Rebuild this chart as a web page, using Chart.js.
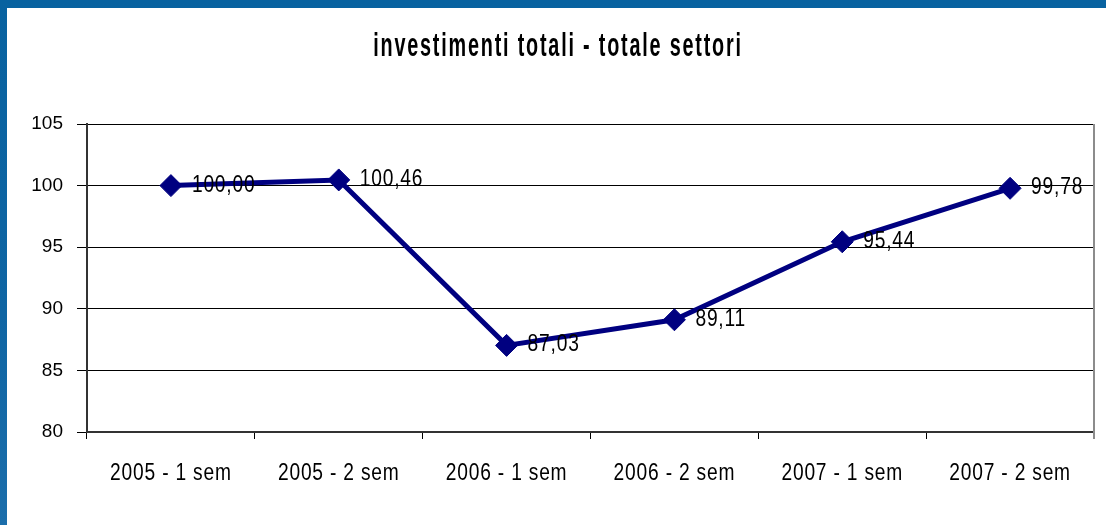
<!DOCTYPE html>
<html>
<head>
<meta charset="utf-8">
<script src="https://cdn.jsdelivr.net/npm/chart.js@4"></script>
<style>
  html, body { margin: 0; padding: 0; }
  body { width: 1106px; height: 525px; background: linear-gradient(180deg, #0862a0 0%, #0f65a3 60%, #1b6eab 100%); position: relative; overflow: hidden; }
  #wrap { position: absolute; left: 7px; top: 8px; width: 1099px; height: 517px; background: #ffffff; }
  canvas { display: block; }
</style>
</head>
<body>
<div id="wrap"><canvas id="c" width="1099" height="517"></canvas></div>
<script>
const titleText = "investimenti totali - totale settori";
const categories = ["2005 - 1 sem", "2005 - 2 sem", "2006 - 1 sem", "2006 - 2 sem", "2007 - 1 sem", "2007 - 2 sem"];
const values = [100.00, 100.46, 87.03, 89.11, 95.44, 99.78];
const valueLabels = ["100,00", "100,46", "87,03", "89,11", "95,44", "99,78"];
const yTicks = [80, 85, 90, 95, 100, 105];

const FONT = "'Liberation Sans', Arial, sans-serif";

// draw text horizontally condensed (narrow look of the original)
function narrowText(ctx, text, x, y, sx, align, spacing) {
  ctx.save();
  ctx.translate(x, y);
  ctx.scale(sx, 1);
  ctx.letterSpacing = spacing || '0px';
  ctx.textAlign = align;
  ctx.fillText(text, 0, 0);
  ctx.restore();
}

const textPlugin = {
  id: 'texts',
  afterDraw(chart) {
    const ctx = chart.ctx;
    const area = chart.chartArea;
    ctx.save();
    // right border of the plot area
    ctx.strokeStyle = '#8c8c8c';
    ctx.lineWidth = 2;
    ctx.beginPath();
    ctx.moveTo(area.right, area.top);
    ctx.lineTo(area.right, area.bottom + 7);
    ctx.stroke();

    ctx.fillStyle = '#000000';
    ctx.textBaseline = 'alphabetic';

    // title
    ctx.font = "bold 33px " + FONT;
    narrowText(ctx, titleText, 551, 48, 0.6, 'center', '3px');

    // category labels
    ctx.font = "24px " + FONT;
    const xs = chart.scales.x;
    categories.forEach((c, i) => {
      narrowText(ctx, c, xs.getPixelForValue(i), area.bottom + 48, 0.8, 'center', '1px');
    });

    // value labels
    const meta = chart.getDatasetMeta(0);
    meta.data.forEach((pt, i) => {
      narrowText(ctx, valueLabels[i], pt.x + 21, pt.y + 6, 0.8, 'left', '1px');
    });
    ctx.restore();
  }
};

new Chart(document.getElementById('c'), {
  type: 'line',
  data: {
    labels: categories,
    datasets: [{
      data: values,
      borderColor: '#000080',
      backgroundColor: '#000080',
      borderWidth: 5,
      pointStyle: 'rectRot',
      pointRadius: 11,
      pointHoverRadius: 11,
      pointBackgroundColor: '#000080',
      pointBorderColor: '#000080',
      pointBorderWidth: 1,
      tension: 0,
      fill: false
    }]
  },
  options: {
    responsive: false,
    animation: false,
    devicePixelRatio: 1,
    layout: { padding: { left: 0, right: 10, top: 116, bottom: 0 } },
    plugins: {
      legend: { display: false },
      tooltip: { enabled: false },
      title: { display: false }
    },
    scales: {
      x: {
        type: 'category',
        offset: true,
        grid: { offset: true, drawOnChartArea: false, drawTicks: true, tickLength: 7, color: '#000000', lineWidth: 1 },
        border: { display: true, color: '#333333', width: 2 },
        ticks: { display: false },
        afterFit(scale) { scale.height = 93; }
      },
      y: {
        min: 80,
        max: 105,
        afterBuildTicks(scale) { scale.ticks = yTicks.map(v => ({ value: v })); },
        grid: { color: '#000000', lineWidth: 1, tickLength: 10, drawTicks: true },
        border: { display: true, color: '#333333', width: 2 },
        ticks: { color: '#000000', font: { family: FONT, size: 19 }, padding: 14 },
        afterFit(scale) { scale.width = 80; }
      }
    }
  },
  plugins: [textPlugin]
});
</script>
</body>
</html>
